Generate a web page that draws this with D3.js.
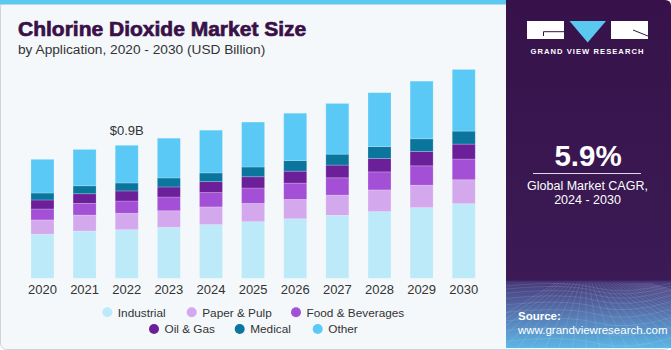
<!DOCTYPE html>
<html>
<head>
<meta charset="utf-8">
<script src="https://cdn.jsdelivr.net/npm/d3@7"></script>
<style>
  html, body { margin: 0; padding: 0; background: #ffffff; }
  svg { display: block; font-family: "Liberation Sans", Arial, sans-serif; }
</style>
</head>
<body>
<svg id="chart" width="671" height="350"></svg>
<script>
const years = ['2020', '2021', '2022', '2023', '2024', '2025', '2026', '2027', '2028', '2029', '2030'];
const segments = ['Industrial', 'Paper & Pulp', 'Food & Beverages', 'Oil & Gas', 'Medical', 'Other'];
const industrial = [0.298, 0.320, 0.329, 0.345, 0.363, 0.383, 0.403, 0.426, 0.451, 0.478, 0.505];
const paperPulp = [0.097, 0.108, 0.111, 0.112, 0.120, 0.124, 0.131, 0.137, 0.147, 0.152, 0.162];
const foodBev = [0.074, 0.079, 0.083, 0.093, 0.097, 0.104, 0.110, 0.117, 0.122, 0.131, 0.140];
const oilGas = [0.061, 0.065, 0.068, 0.068, 0.074, 0.076, 0.081, 0.086, 0.090, 0.097, 0.101];
const medical = [0.047, 0.054, 0.054, 0.061, 0.059, 0.066, 0.072, 0.074, 0.081, 0.086, 0.088];
const other = [0.228, 0.246, 0.255, 0.269, 0.289, 0.304, 0.320, 0.343, 0.365, 0.390, 0.417];
const colors = ['#bdeaf9', '#d4a8ec', '#a34fd6', '#6b2099', '#0a769e', '#5bc9f5'];
const annotation = { year: '2022', label: '$0.9B' };

const svg = d3.select('#chart');
const W = 671, H = 350, panelX = 506;

// frame + background
svg.append('rect').attr('x', 0.5).attr('y', 0.5).attr('width', W - 1).attr('height', H - 1)
  .attr('rx', 6).attr('fill', '#f4f8fb').attr('stroke', '#cfd3d7');
svg.append('rect').attr('x', 0).attr('y', 0).attr('width', panelX).attr('height', 4.5).attr('fill', '#5bc8f0');

// right panel
const defs = svg.append('defs');
const grad = defs.append('linearGradient').attr('id', 'panelGrad').attr('x1', 0).attr('y1', 0).attr('x2', 0).attr('y2', 1);
grad.append('stop').attr('offset', '0%').attr('stop-color', '#37124a');
grad.append('stop').attr('offset', '80.5%').attr('stop-color', '#3b1a55');
grad.append('stop').attr('offset', '81%').attr('stop-color', '#47397a');
grad.append('stop').attr('offset', '90%').attr('stop-color', '#5676b0');
grad.append('stop').attr('offset', '100%').attr('stop-color', '#5cb6e6');
defs.append('clipPath').attr('id', 'panelClip').append('rect')
  .attr('x', panelX).attr('y', 283).attr('width', W - panelX).attr('height', 65);

svg.append('path')
  .attr('d', `M${panelX},0 H${W - 6} Q${W},0 ${W},6 V348 H${panelX} Z`)
  .attr('fill', 'url(#panelGrad)');

// faint wireframe grid at the bottom of the panel
const wire = svg.append('g').attr('clip-path', 'url(#panelClip)')
  .attr('stroke', '#ffffff').attr('stroke-opacity', 0.14).attr('fill', 'none').attr('stroke-width', 0.8);
d3.range(0, 12).forEach(i => {
  const yy = 286 + i * i * 0.55 + i * 2.5;
  wire.append('path').attr('d', `M${panelX},${yy} Q${panelX + 60},${yy - 6} ${panelX + 90},${yy + 2} T${W},${yy - 3}`);
});
d3.range(-10, 22).forEach(i => {
  const x0 = panelX + 80 + i * 3;
  wire.append('line').attr('x1', x0).attr('y1', 283).attr('x2', panelX + 80 + i * 14).attr('y2', 350);
});

// logo
const logo = svg.append('g');
logo.append('rect').attr('x', 527).attr('y', 21).attr('width', 37).attr('height', 18).attr('fill', '#ffffff');
logo.append('path').attr('d', 'M569.5,21 H606 L587.7,42.5 Z').attr('fill', '#5bc8f0');
logo.append('rect').attr('x', 611).attr('y', 21).attr('width', 37).attr('height', 18).attr('fill', '#ffffff');
logo.append('path').attr('d', 'M564,31.7 H543.5 V36').attr('stroke', '#37124a').attr('stroke-width', 1).attr('fill', 'none');
logo.append('line').attr('x1', 633).attr('y1', 30).attr('x2', 648).attr('y2', 36).attr('stroke', '#37124a').attr('stroke-width', 1);
logo.append('text').attr('x', 587.5).attr('y', 53.5).attr('text-anchor', 'middle')
  .attr('fill', '#ffffff').attr('font-size', 7.6).attr('font-weight', 'bold').attr('letter-spacing', 1.05)
  .text('GRAND VIEW RESEARCH');

// CAGR block
svg.append('text').attr('x', 588).attr('y', 166).attr('text-anchor', 'middle')
  .attr('fill', '#ffffff').attr('font-size', 29.5).attr('font-weight', 'bold').text('5.9%');
svg.append('line').attr('x1', 533).attr('x2', 641).attr('y1', 173.5).attr('y2', 173.5)
  .attr('stroke', '#ffffff').attr('stroke-opacity', 0.85).attr('stroke-width', 1);
svg.append('text').attr('x', 587.5).attr('y', 189.5).attr('text-anchor', 'middle')
  .attr('fill', '#ffffff').attr('font-size', 12.5).text('Global Market CAGR,');
svg.append('text').attr('x', 587.5).attr('y', 204).attr('text-anchor', 'middle')
  .attr('fill', '#ffffff').attr('font-size', 12.5).text('2024 - 2030');

// source
svg.append('text').attr('x', 518).attr('y', 319.5).attr('fill', '#ffffff')
  .attr('font-size', 11.5).attr('font-weight', 'bold').text('Source:');
svg.append('text').attr('x', 518).attr('y', 333.5).attr('fill', '#ffffff')
  .attr('font-size', 11.5).text('www.grandviewresearch.com');

// titles
svg.append('text').attr('x', 18).attr('y', 35.5).attr('fill', '#3a1048')
  .attr('font-size', 21).attr('font-weight', 'bold')
  .attr('stroke', '#3a1048').attr('stroke-width', 0.7)
  .text('Chlorine Dioxide Market Size');
svg.append('text').attr('x', 18).attr('y', 54).attr('fill', '#333333')
  .attr('font-size', 13.7).text('by Application, 2020 - 2030 (USD Billion)');

// stacked bars
const rows = years.map((yr, i) => ({
  year: yr,
  'Industrial': industrial[i],
  'Paper & Pulp': paperPulp[i],
  'Food & Beverages': foodBev[i],
  'Oil & Gas': oilGas[i],
  'Medical': medical[i],
  'Other': other[i]
}));
const series = d3.stack().keys(segments)(rows);

const x = d3.scaleBand().domain(years).range([21.4, 484.8]).paddingInner(0.454).paddingOuter(0.227);
const y = d3.scaleLinear().domain([0, 1.4]).range([278.3, 278.3 - 1.4 * 147.8]);
const color = d3.scaleOrdinal().domain(segments).range(colors);

svg.append('g').selectAll('g').data(series).join('g')
  .attr('fill', d => color(d.key))
  .selectAll('rect').data(d => d).join('rect')
  .attr('x', d => x(d.data.year))
  .attr('y', d => y(d[1]))
  .attr('width', x.bandwidth())
  .attr('height', d => y(d[0]) - y(d[1]))
  .attr('stroke', '#ffffff').attr('stroke-opacity', 0.25).attr('stroke-width', 0.8);

const xAxis = svg.append('g').attr('transform', 'translate(0,278.3)')
  .call(d3.axisBottom(x).tickSize(0).tickPadding(6));
xAxis.select('.domain').remove();
xAxis.selectAll('text').attr('font-size', 13).attr('fill', '#333333')
  .attr('font-family', '"Liberation Sans", Arial, sans-serif');

// annotation
const total = d3.sum(segments, k => rows[years.indexOf(annotation.year)][k]);
svg.append('text').attr('x', x(annotation.year) + x.bandwidth() / 2).attr('y', y(total) - 10.5)
  .attr('text-anchor', 'middle').attr('font-size', 13).attr('fill', '#333333').text(annotation.label);

// legend
const legendPos = [
  { cx: 107.3, cy: 312.3 }, { cx: 191.7, cy: 312.3 }, { cx: 296, cy: 312.3 },
  { cx: 154, cy: 329 }, { cx: 239.7, cy: 329 }, { cx: 317.7, cy: 329 }
];
const legend = svg.append('g').selectAll('g').data(segments).join('g')
  .attr('transform', (d, i) => `translate(${legendPos[i].cx},${legendPos[i].cy})`);
legend.append('circle').attr('r', 5).attr('fill', d => color(d));
legend.append('text').attr('x', 10.5).attr('y', 4.3).attr('font-size', 11.8).attr('fill', '#333333').text(d => d);
</script>
</body>
</html>
